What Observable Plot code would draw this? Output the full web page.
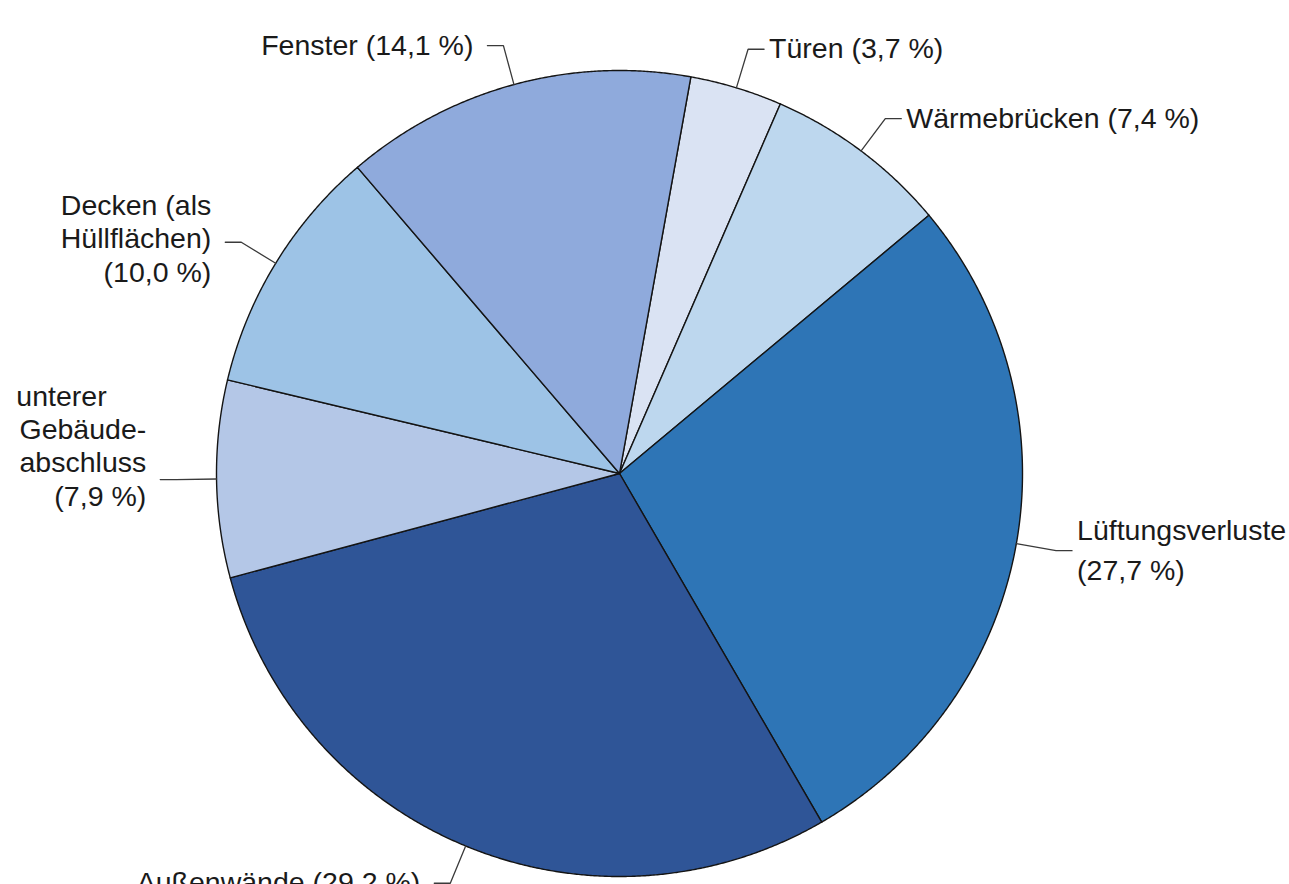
<!DOCTYPE html>
<html><head><meta charset="utf-8">
<script src="https://cdn.jsdelivr.net/npm/d3@7"></script>
<script src="https://cdn.jsdelivr.net/npm/@observablehq/plot@0.6"></script>
<style>
  html,body{margin:0;padding:0;background:#fff;overflow:hidden}
  #chart svg{display:block}
</style>
</head><body><div id="chart"></div>
<script>
// ---- data ----
const categories = ["Türen", "Wärmebrücken", "Lüftungsverluste", "Außenwände", "unterer Gebäudeabschluss", "Decken (als Hüllflächen)", "Fenster"];
const shares = [3.7, 7.4, 27.7, 29.2, 7.9, 10.0, 14.1];
const labelTexts = ["Türen (3,7 %)", "Wärmebrücken (7,4 %)", "Lüftungsverluste\n(27,7 %)", "Außenwände (29,2 %)", "unterer     \nGebäude-\nabschluss\n(7,9 %)", "Decken (als\nHüllflächen)\n(10,0 %)", "Fenster (14,1 %)"];
const colors = ["#DAE3F3", "#BDD7EE", "#2E75B6", "#2F5597", "#B4C7E7", "#9DC3E6", "#8FAADC"];

// ---- layout (styles / positioning, separate from data) ----
const startAngle = 10.2;          // degrees clockwise from 12 o'clock
const ppu = 403;                  // pixels per radius unit
const fontSize = 28.5;
const lineHeights = [1.17, 1.17, 1.4, 1.17, 1.17, 1.17, 1.17];
const labelShiftPx = [0, 0, 0, 0, -33, -3, 0];
const rad = Math.PI / 180;

let acc = startAngle;
const slices = categories.map((c, i) => {
  const a0 = acc, a1 = acc + shares[i] / 100 * 360;
  acc = a1;
  return {name: c, a0, a1, mid: (a0 + a1) / 2, color: colors[i], i};
});

// polygon outline points for each slice
const pieRows = [];
for (const s of slices) {
  pieRows.push({name: s.name, color: s.color, x: 0, y: 0});
  const n = Math.max(2, Math.ceil((s.a1 - s.a0) / 0.25));
  for (let k = 0; k <= n; k++) {
    const a = (s.a0 + (s.a1 - s.a0) * k / n) * rad;
    pieRows.push({name: s.name, color: s.color, x: Math.sin(a), y: Math.cos(a)});
  }
  pieRows.push({name: s.name, color: s.color, x: 0, y: 0});
}

// leader lines and label lines
const leaderRows = [];
const textRows = [];
for (const s of slices) {
  const a = s.mid * rad;
  const side = Math.sin(a) >= 0 ? 1 : -1;
  const p0 = [Math.sin(a), Math.cos(a)];
  const p1 = [1.1 * Math.sin(a), 1.1 * Math.cos(a)];
  const p2 = [p1[0] + side * 16 / ppu, p1[1]];
  for (const p of [p0, p1, p2]) leaderRows.push({name: s.name, x: p[0], y: p[1]});
  const gap = side > 0 ? 5 : 14;
  const lines = labelTexts[s.i].split("\n");
  const lh = lineHeights[s.i] * fontSize;
  lines.forEach((t, j) => {
    const offPx = (j - (lines.length - 1) / 2) * lh + labelShiftPx[s.i];
    textRows.push({text: t, side, x: p2[0] + side * gap / ppu, y: p2[1] - offPx / ppu});
  });
}

const chart = Plot.plot({
  width: 1289,
  height: 884,
  marginLeft: 216,
  marginRight: 267,
  marginTop: 70,
  marginBottom: 8,
  x: {domain: [-1, 1], axis: null},
  y: {domain: [-1, 1], axis: null},
  color: {type: "identity"},
  style: {fontFamily: "'Liberation Sans', Arial, sans-serif", fontSize: fontSize + "px", background: "#fff", color: "#1a1a1a"},
  marks: [
    Plot.line(pieRows, {x: "x", y: "y", z: "name", fill: "color", stroke: "#141414", strokeWidth: 1.4, strokeLinejoin: "round", curve: "linear"}),
    Plot.line(leaderRows, {x: "x", y: "y", z: "name", stroke: "#3a3a3a", strokeWidth: 1.3}),
    Plot.text(textRows.filter(d => d.side > 0), {x: "x", y: "y", text: "text", textAnchor: "start", fill: "#1a1a1a", fontSize}),
    Plot.text(textRows.filter(d => d.side < 0), {x: "x", y: "y", text: "text", textAnchor: "end", fill: "#1a1a1a", fontSize})
  ]
});
document.getElementById("chart").appendChild(chart);
</script>
</body></html>
